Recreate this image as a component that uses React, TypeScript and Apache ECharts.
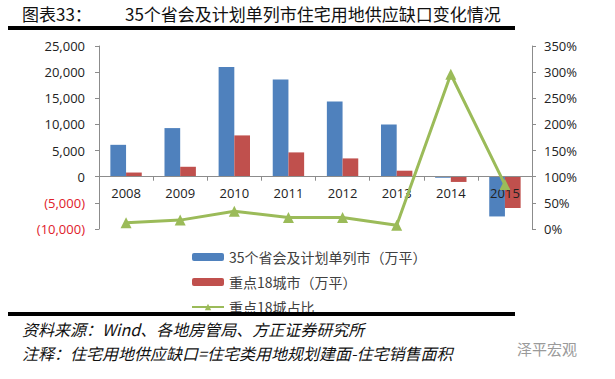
import React, { useEffect, useRef } from "react";
import * as echarts from "echarts";

const years = ["2008", "2009", "2010", "2011", "2012", "2013", "2014", "2015"];
const gap35 = [6100, 9300, 21000, 18600, 14400, 10000, -200, -7600];
const gap18 = [800, 1900, 7900, 4650, 3500, 1150, -1000, -6000];
const ratio18 = [12, 17, 34, 22, 22, 7, 296, 85];

const leftTicks = { min: -10000, max: 25000, interval: 5000 };
const rightTicks = { min: 0, max: 350, interval: 50 };

const seriesNames = ["35个省会及计划单列市（万平）", "重点18城市（万平）", "重点18城占比"];
const titleLabel = "图表33：";
const titleText = "35个省会及计划单列市住宅用地供应缺口变化情况";
const sourceText = "资料来源：Wind、各地房管局、方正证券研究所";
const noteText = "注释：住宅用地供应缺口=住宅类用地规划建面-住宅销售面积";
const watermark = "泽平宏观";

const BLUE = "#4F81BD";
const RED = "#C0504D";
const GREEN = "#9BBB59";
const AXIS = "#8C8C8C";
const TXT = "#404040";
const CJK = "'Noto Sans CJK SC', sans-serif";
const LAT = "'Open Sans', 'Liberation Sans', sans-serif";

function fmtThousands(v: number) {
  const s = Math.abs(v).toString().replace(/\B(?=(\d{3})+(?!\d))/g, ",");
  return v < 0 ? `{neg|(${s})}` : `{pos|${s}}`;
}

export default function App() {
  const ref = useRef<HTMLDivElement>(null);
  useEffect(() => {
    if (!ref.current) return;
    const chart = echarts.init(ref.current, undefined, { renderer: "svg" });
    chart.setOption({
      animation: false,
      backgroundColor: "#ffffff",
      grid: { left: 99, right: 83, top: 46, bottom: 150, containLabel: false },
      legend: {
        orient: "vertical",
        left: 186,
        top: 245,
        itemWidth: 32,
        itemHeight: 8,
        itemGap: 11,
        textStyle: { fontFamily: CJK, fontSize: 14, color: TXT },
        data: seriesNames,
      },
      xAxis: {
        type: "category",
        data: years,
        z: 4,
        axisLine: { onZero: true, onZeroAxisIndex: 0, lineStyle: { color: AXIS, width: 1 } },
        axisTick: { show: true, length: 4, lineStyle: { color: AXIS } },
        axisLabel: { color: "#222", fontFamily: LAT, fontSize: 13, margin: -43, interval: 0 },
      },
      yAxis: [
        {
          type: "value",
          min: leftTicks.min,
          max: leftTicks.max,
          interval: leftTicks.interval,
          splitLine: { show: false },
          axisLine: { show: true, lineStyle: { color: AXIS } },
          axisTick: { show: true, length: 4, lineStyle: { color: AXIS } },
          axisLabel: {
            margin: 14,
            formatter: (v: number) => fmtThousands(v),
            rich: {
              pos: { color: "#222", fontFamily: LAT, fontSize: 13 },
              neg: { color: "#E0202A", fontFamily: LAT, fontSize: 13 },
            },
          },
        },
        {
          type: "value",
          min: rightTicks.min,
          max: rightTicks.max,
          interval: rightTicks.interval,
          position: "right",
          splitLine: { show: false },
          axisLine: { show: true, lineStyle: { color: AXIS } },
          axisTick: { show: true, length: 4, lineStyle: { color: AXIS } },
          axisLabel: {
            margin: 12,
            color: "#222",
            fontFamily: LAT,
            fontSize: 13,
            formatter: (v: number) => `${v}%`,
          },
        },
      ],
      series: [
        {
          name: seriesNames[0],
          type: "bar",
          data: gap35,
          yAxisIndex: 0,
          barGap: "0%",
          barCategoryGap: "42%",
          itemStyle: { color: BLUE },
          z: 2,
        },
        {
          name: seriesNames[1],
          type: "bar",
          data: gap18,
          yAxisIndex: 0,
          itemStyle: { color: RED },
          z: 2,
        },
        {
          name: seriesNames[2],
          type: "line",
          data: ratio18,
          yAxisIndex: 1,
          symbol: "triangle",
          symbolSize: 11,
          lineStyle: { color: GREEN, width: 3 },
          itemStyle: { color: GREEN },
          z: 5,
        },
      ],
      graphic: [
        {
          type: "text",
          left: 22,
          top: 5,
          style: { text: titleLabel, font: `17px ${CJK}`, fill: "#111" },
        },
        {
          type: "text",
          left: 125,
          top: 5,
          style: { text: titleText, font: `17px ${CJK}`, fill: "#111" },
        },
        {
          type: "rect",
          shape: { x: 8, y: 26, width: 507, height: 4 },
          style: { fill: "#000" },
        },
        {
          type: "rect",
          shape: { x: 8, y: 312, width: 507, height: 4 },
          style: { fill: "#000" },
          z: 100,
        },
        {
          type: "text",
          left: 22,
          top: 321,
          style: { text: sourceText, font: `italic 16px ${CJK}`, fill: "#111" },
        },
        {
          type: "text",
          left: 22,
          top: 345,
          style: { text: noteText, font: `italic 16px ${CJK}`, fill: "#111" },
        },
        {
          type: "text",
          left: 517,
          top: 341,
          style: { text: watermark, font: `15px ${CJK}`, fill: "#9A9A9A" },
        },
      ],
    });
    return () => chart.dispose();
  }, []);
  return (
    <div
      ref={ref}
      style={{ position: "fixed", left: 0, top: 0, width: 615, height: 379, background: "#fff" }}
    />
  );
}
